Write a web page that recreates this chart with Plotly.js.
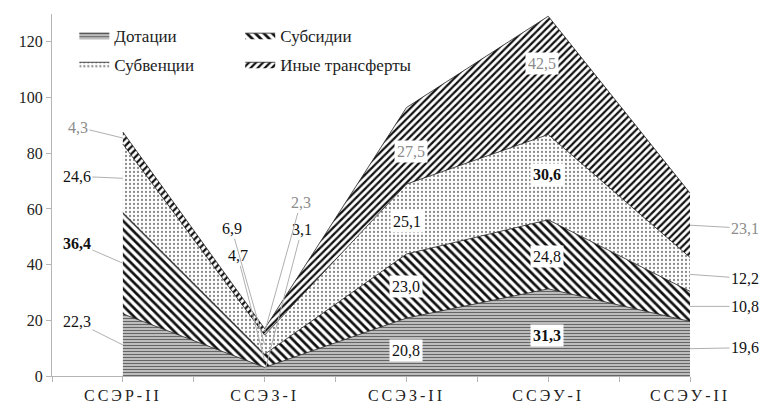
<!DOCTYPE html>
<html>
<head>
<meta charset="utf-8">
<script src="https://cdn.plot.ly/plotly-3.0.1.min.js"></script>
<style>
  html, body { margin: 0; padding: 0; background: #fff; }
  #chart { width: 760px; height: 408px; }
  .xtick text { letter-spacing: 3px; }
</style>
</head>
<body>
<div id="chart"></div>
<script>
// ---- data ----
const categories = ['ССЭР-II', 'ССЭЗ-I', 'ССЭЗ-II', 'ССЭУ-I', 'ССЭУ-II'];
const dotacii   = [22.3, 3.1, 20.8, 31.3, 19.6];
const subsidii  = [36.4, 4.7, 23.0, 24.8, 10.8];
const subvencii = [24.6, 6.9, 25.1, 30.6, 12.2];
const inye      = [4.3, 2.3, 27.5, 42.5, 23.1];
const seriesNames = ['Дотации', 'Субсидии', 'Субвенции', 'Иные трансферты'];
const yTickValues = [0, 20, 40, 60, 80, 100, 120];

// ---- styles ----
const FONT = '"Liberation Serif", "DejaVu Serif", serif';
const seriesData = [dotacii, subsidii, subvencii, inye];
const patterns = [
  {shape: '-', fgcolor: '#666', bgcolor: '#bdbdbd', size: 3, solidity: 0.35},
  {shape: '\\', fgcolor: '#111', bgcolor: '#fff', size: 6, solidity: 0.45},
  {shape: '.', fgcolor: '#8a8a8a', bgcolor: '#fff', size: 4, solidity: 0.25},
  {shape: '/', fgcolor: '#111', bgcolor: '#fff', size: 5, solidity: 0.45}
];
const legendOf = ['legend', 'legend2', 'legend', 'legend2'];
const labelColor = ['#111', '#111', '#111', '#8c8c8c'];
const boldLabels = {'1-0': true, '2-3': true, '0-3': true};

// label placement per category: 'out' with pixel offsets (ax, ay), or 'in' with shifts
const placement = {
  0: {mode: 'out', off: [[-46, -23], [-46, -20], [-46, -2], [-45, -11]]},
  1: {mode: 'out', off: [[37, -142], [-27, -105], [-33, -116], [36, -129]]},
  2: {mode: 'in',  off: [[0, -3], [0, 0], [1, -2], [5, -6]]},
  3: {mode: 'in',  off: [[-1, -3], [-1, -2], [-1, 3], [-6, 12]]},
  4: {mode: 'out', off: [[55, -1], [55, 0], [55, 4], [55, 3]]}
};

const xIdx = categories.map((c, i) => i);

const traces = seriesData.map((vals, s) => ({
  type: 'scatter',
  mode: 'lines',
  name: seriesNames[s],
  x: xIdx,
  y: vals,
  stackgroup: 'one',
  line: {color: '#222', width: 0.8},
  fillcolor: patterns[s].bgcolor,
  fillpattern: patterns[s],
  legend: legendOf[s],
  legendgroup: 'g' + s,
  hoverinfo: 'skip'
}));

// cumulative mid points for labels
const fmt = v => v.toFixed(1).replace('.', ',');
const annotations = [];
categories.forEach((c, i) => {
  let base = 0;
  seriesData.forEach((vals, s) => {
    const v = vals[i];
    const mid = base + v / 2;
    base += v;
    const p = placement[i];
    const key = s + '-' + i;
    let txt = fmt(v);
    if (boldLabels[key]) txt = '<b>' + txt + '</b>';
    const common = {
      x: i, y: mid, xref: 'x', yref: 'y', text: txt,
      font: {family: FONT, size: 16, color: labelColor[s]}
    };
    if (p.mode === 'out') {
      annotations.push(Object.assign(common, {
        showarrow: true, arrowhead: 0, arrowwidth: 1, arrowcolor: '#b0b0b0',
        ax: p.off[s][0], ay: p.off[s][1], standoff: 0, startstandoff: 0
      }));
    } else {
      annotations.push(Object.assign(common, {
        showarrow: false, bgcolor: '#fff', borderpad: 2,
        xshift: p.off[s][0], yshift: p.off[s][1]
      }));
    }
  });
});

const xTickVals = [];
const xTickText = [];
for (let k = -1; k <= 2 * (categories.length - 1); k++) {
  xTickVals.push(k / 2);
  xTickText.push(k >= 0 && k % 2 === 0 ? categories[k / 2] : '');
}

const layout = {
  width: 760, height: 408,
  margin: {l: 52, r: 70, t: 14, b: 32, pad: 0},
  paper_bgcolor: '#fff', plot_bgcolor: '#fff',
  font: {family: FONT, size: 16, color: '#222'},
  showlegend: true,
  xaxis: {
    range: [-0.5, 4], showgrid: false, zeroline: false,
    showline: true, linecolor: '#b5b5b5', linewidth: 1,
    tickmode: 'array', tickvals: xTickVals, ticktext: xTickText,
    ticks: 'outside', ticklen: 5, tickcolor: '#b5b5b5',
    tickfont: {family: FONT, size: 16, color: '#222'}
  },
  yaxis: {
    range: [0, 130], showgrid: false, zeroline: false,
    showline: true, linecolor: '#b5b5b5', linewidth: 1,
    tickmode: 'array', tickvals: yTickValues,
    ticks: 'outside', ticklen: 5, tickcolor: '#b5b5b5',
    tickfont: {family: FONT, size: 16, color: '#222'}
  },
  legend: {
    x: 0.035, y: 0.99, xanchor: 'left', yanchor: 'top',
    orientation: 'v', traceorder: 'grouped', tracegroupgap: 4,
    font: {family: FONT, size: 17, color: '#222'}, bgcolor: 'rgba(0,0,0,0)'
  },
  legend2: {
    x: 0.295, y: 0.99, xanchor: 'left', yanchor: 'top',
    orientation: 'v', traceorder: 'grouped', tracegroupgap: 4,
    font: {family: FONT, size: 17, color: '#222'}, bgcolor: 'rgba(0,0,0,0)'
  },
  annotations: annotations
};

Plotly.newPlot('chart', traces, layout, {displayModeBar: false, staticPlot: true});
</script>
</body>
</html>
